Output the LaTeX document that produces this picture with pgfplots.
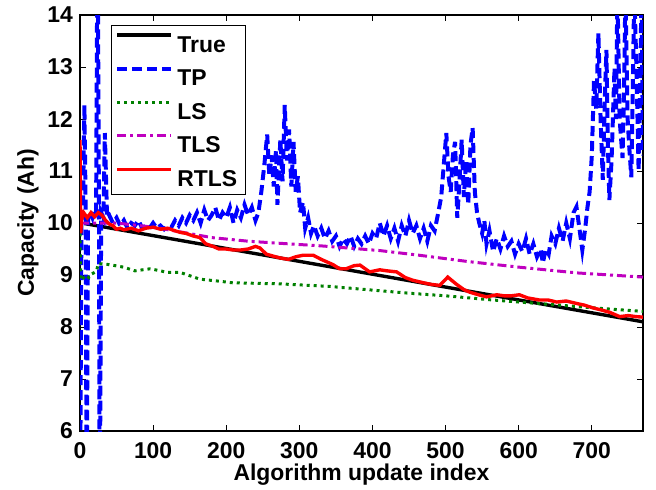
\documentclass[border=0pt]{standalone}
\usepackage{fontspec}
\setmainfont{Liberation Sans}
\usepackage{pgfplots}
\pgfplotsset{compat=1.18}

\definecolor{mblue}{rgb}{0,0,1}
\definecolor{mgreen}{rgb}{0,0.5,0}
\definecolor{mmag}{rgb}{0.75,0,0.75}
\definecolor{mred}{rgb}{1,0,0}

\newcommand{\mfont}{\bfseries\fontsize{11.5}{13}\selectfont}

\begin{document}
\begin{tikzpicture}
\begin{axis}[
  scale only axis,
  width=281.5bp, height=208bp,
  xmin=0, xmax=770, ymin=6, ymax=14,
  xtick={0,100,...,700},
  ytick={6,7,...,14},
  tick align=inside,
  major tick length=3bp,
  tick style={black, line width=0.4pt},
  axis line style={line width=0.6pt},
  font=\mfont,
  /pgf/number format/assume math mode=true,
  ticklabel style={font=\mfont},
  xticklabel style={yshift=-2bp},
  xlabel={Algorithm update index},
  ylabel={Capacity (Ah)},
  every axis x label/.style={at={(rel axis cs:0.5,0)}, anchor=center, yshift=-22bp, font=\mfont},
  every axis y label/.style={at={(rel axis cs:0,0.5)}, anchor=center, rotate=90, yshift=26bp, font=\mfont},
  legend cell align=left,
  legend style={at={(0.055,0.976)}, anchor=north west, draw=black, line width=0.5pt,
    font=\mfont, inner xsep=2bp, inner ysep=4bp, row sep=7.5bp,
    nodes={text height=8.5bp, text depth=0bp, inner ysep=0bp, inner xsep=2bp}},
  legend image code/.code={\draw[#1] (0bp,4.2bp) -- (27bp,4.2bp);},
]

% True
\addplot[black, line width=1.7pt] coordinates {(6,9.99) (770,8.10)};
\addlegendentry{True}

% TP
\addplot[mblue, line width=2pt, dash pattern=on 5bp off 2.5bp] coordinates {
(0,4) (2,10.2) (4,10.25) (6,12.27) (8,10.0) (9,4) (11,10.1) (14,10.2) (17,10.1) (20,10.25)
(22,10.2) (24,16) (26,10.0) (27,4) (29,10.2) (32,10.1) (34,11.73) (37,10.1) (40,10.15)
(45,10.0) (50,10.1) (55,9.95) (60,10.05) (65,9.9) (70,10.0) (75,9.95) (80,10.05) (85,9.9)
(90,9.95) (95,9.9) (100,10.0) (105,9.9) (110,9.95) (115,9.88) (120,9.95) (125,9.92)
(130,10.05) (135,9.95) (140,10.1) (145,10.0) (150,10.15) (155,10.05) (160,10.2) (165,10.0)
(170,10.25) (175,10.05) (180,10.15) (185,10.3) (190,10.05) (195,10.2) (200,10.1) (205,10.3)
(210,10.0) (215,10.25) (220,10.1) (225,10.35) (230,10.15) (235,10.3) (240,10.05) (244,10.2)
(248,10.6) (252,11.1) (256,11.7) (259,10.9) (262,11.3) (265,10.7) (268,11.4) (270,10.35)
(274,11.6) (277,10.8) (280,12.27) (283,11.2) (286,11.8) (289,10.7) (292,11.56) (295,10.6)
(298,10.9) (301,10.2) (305,10.4) (308,9.9) (312,10.1) (316,9.8) (320,9.95) (325,9.75)
(330,9.9) (335,9.7) (340,9.85) (345,9.65) (350,9.75) (355,9.55) (360,9.7) (365,9.6)
(370,9.75) (375,9.55) (380,9.7) (385,9.6) (390,9.75) (395,9.6) (400,9.8) (405,9.7)
(410,10.0) (415,9.75) (420,9.95) (425,9.7) (430,9.9) (435,9.65) (440,9.95) (445,9.75)
(450,10.05) (455,9.8) (460,9.95) (465,9.7) (470,9.9) (475,9.65) (480,9.95) (485,9.85)
(490,10.2) (494,10.5) (498,11.2) (501,11.73) (504,10.9) (507,10.6) (510,11.3) (513,11.56)
(516,10.1) (519,10.8) (522,11.6) (525,10.5) (528,11.2) (531,10.35) (534,11.5) (537,11.83)
(540,10.6) (543,10.2) (546,10.0) (550,9.8) (553,10.05) (556,9.6) (560,9.85) (565,9.45)
(570,9.7) (575,9.5) (580,9.75) (585,9.55) (590,9.65) (595,9.4) (600,9.6) (605,9.45)
(610,9.7) (615,9.4) (620,9.6) (625,9.35) (630,9.5) (633,9.23) (637,9.5) (641,9.4)
(645,9.75) (650,9.6) (655,9.9) (660,9.65) (665,10.0) (670,9.7) (675,10.2) (679,10.31)
(683,9.9) (687,9.48) (691,9.9) (694,10.3) (697,10.6) (700,11.3) (703,12.75) (706,12.2)
(709,13.65) (712,12.0) (715,10.83) (718,12.5) (720,13.33) (722,11.5) (724,10.44) (727,11.2)
(731,12.98) (733,12.0) (735,14.5) (738,12.0) (742,11.25) (744,12.5) (746,14.5) (749,12.0)
(751,11.5) (754,10.88) (756,12.5) (758,14.5) (761,13.0) (764,11.0) (766,12.5) (768,14.5)
(770,11.3)
};
\addlegendentry{TP}

% LS
\addplot[mgreen, line width=1.5pt, dash pattern=on 1.5bp off 2bp] coordinates {
(0,9.8) (1,8.9) (5,8.95) (8,9.0) (12,8.95) (16,9.02) (20,9.05) (23,9.1) (25,9.22)
(40,9.2) (60,9.15) (75,9.08) (96,9.12) (120,9.05) (137,9.05) (164,8.92) (191,8.88)
(209,8.85) (273,8.83) (342,8.78) (383,8.73) (450,8.65) (500,8.6) (564,8.52) (656,8.42)
(700,8.37) (770,8.3)
};
\addlegendentry{LS}

% TLS
\addplot[mmag, line width=1.5pt, dash pattern=on 4.5bp off 2bp on 1.5bp off 2bp] coordinates {
(0,10.0) (50,10.0) (100,9.92) (137,9.83) (180,9.72) (230,9.65) (273,9.61) (330,9.56)
(410,9.47) (464,9.38) (530,9.26) (601,9.15) (680,9.04) (770,8.96)
};
\addlegendentry{TLS}

% RTLS
\addplot[mred, line width=1.7pt] coordinates {
(0,11.6) (1,9.8) (2,10.05) (5,10.2) (10,10.1) (15,10.2) (20,10.12) (25,10.2) (30,10.15)
(35,10.05) (40,9.98) (45,9.95) (50,9.88) (55,9.9) (60,9.87) (70,9.9) (80,9.85) (90,9.9)
(100,9.92) (110,9.88) (120,9.9) (130,9.85) (137,9.82) (145,9.8) (155,9.75) (164,9.72)
(172,9.6) (182,9.55) (190,9.5) (200,9.5) (210,9.48) (219,9.48) (230,9.5) (240,9.55)
(246,9.52) (255,9.4) (265,9.36) (273,9.33) (285,9.3) (295,9.35) (305,9.38) (319,9.38)
(330,9.3) (346,9.2) (355,9.12) (364,9.12) (375,9.18) (383,9.19) (396,9.06) (410,9.1)
(420,9.08) (433,9.06) (445,8.95) (455,8.9) (470,8.85) (480,8.82) (492,8.8) (503,8.96)
(515,8.82) (525,8.72) (533,8.67) (545,8.62) (556,8.58) (570,8.62) (580,8.6) (590,8.6)
(601,8.62) (612,8.56) (628,8.52) (640,8.52) (652,8.48) (665,8.5) (680,8.45) (690,8.42)
(701,8.37) (715,8.32) (725,8.28) (738,8.2) (750,8.22) (760,8.2) (770,8.19)
};
\addlegendentry{RTLS}

\end{axis}
\pgfresetboundingbox
\path[use as bounding box] ([shift={(-40bp,-29bp)}]current axis.south west)
  rectangle ([shift={(6.5bp,7.5bp)}]current axis.north east);
\end{tikzpicture}
\end{document}
